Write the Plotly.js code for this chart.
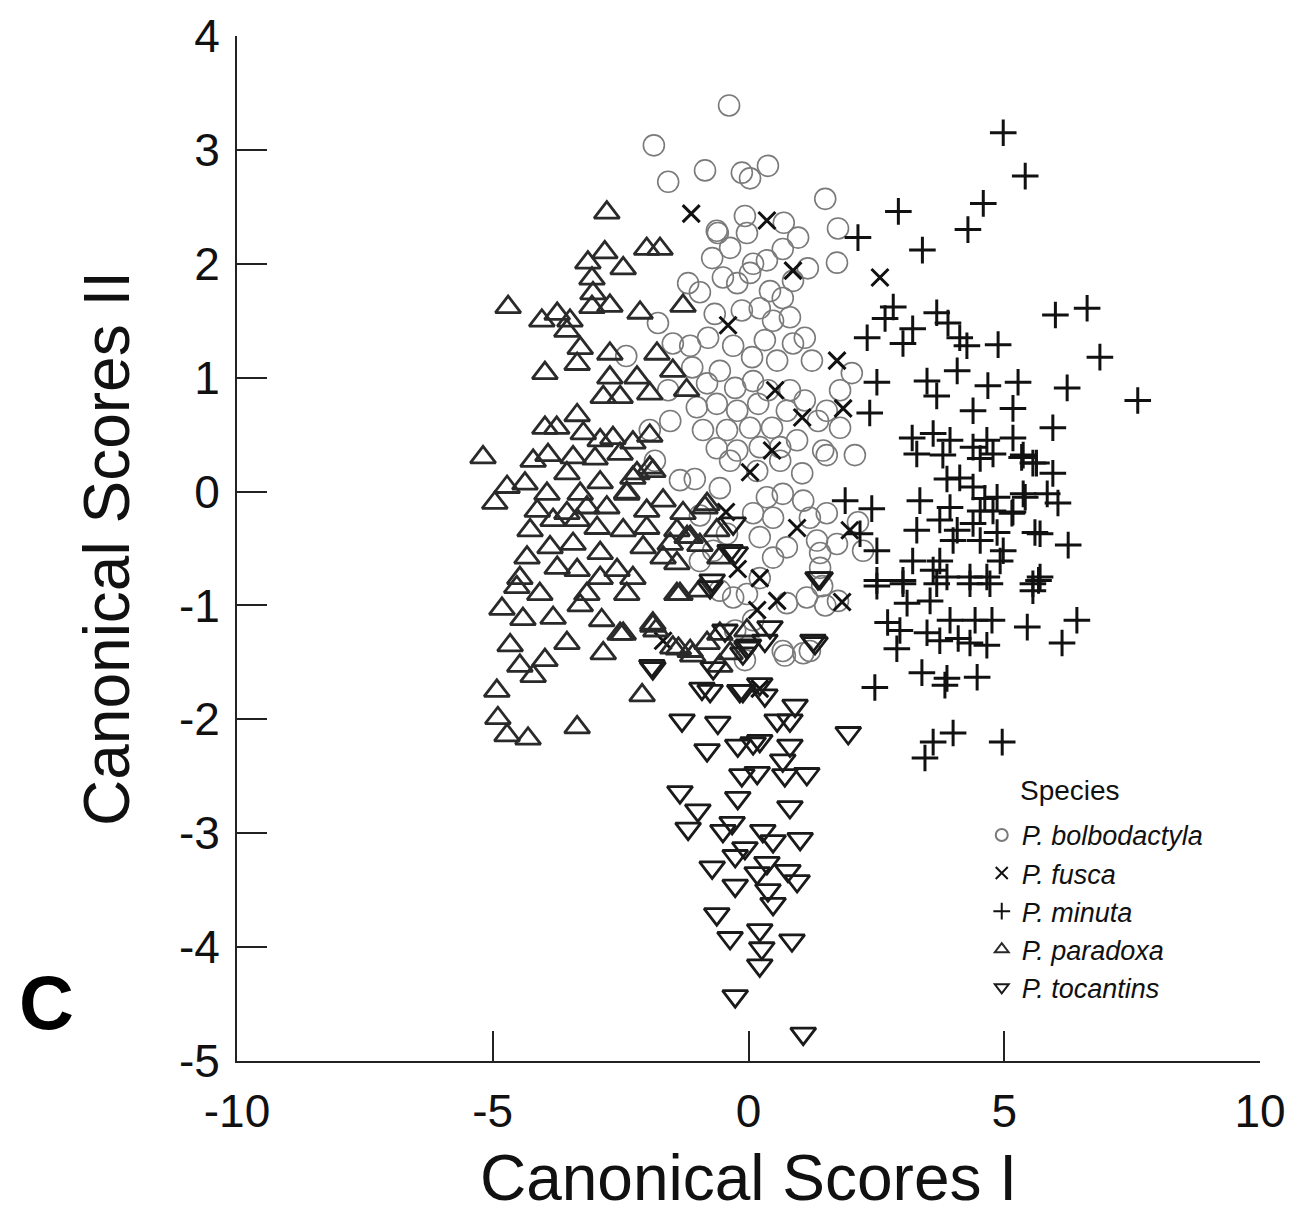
<!DOCTYPE html>
<html>
<head>
<meta charset="utf-8">
<script src="https://cdn.plot.ly/plotly-3.0.1.min.js"></script>
<style>html,body{margin:0;padding:0;background:#fff;}#chart{width:1305px;height:1214px;}</style>
</head>
<body>
<div id="chart"></div>
<script>
// P. bolbodactyla (circles)
const bolbX = [-0.38,-1.85,-1.57,-0.85,-0.13,0.03,0.38,1.50,1.75,-0.07,0.69,-0.62,1.73,-1.18,-1.77,-2.39,2.02,2.08,2.14,2.24,1.50,1.20,0.71,-0.07,-1.93,-1.83,-1.34,-1.53,-1.57,0.22,-0.26,-0.56,1.44,1.75,-0.95,-0.95,
  -0.71,-0.36,-0.60,-0.03,0.97,0.09,0.36,0.67,1.16,
  -0.95,-0.50,-0.22,0.03,0.42,0.87,0.67,-0.66,-0.13,0.22,0.48,0.81,1.10,-1.48,-1.14,-0.79,-0.30,0.07,0.32,0.56,0.87,1.24,1.79,-1.10,-0.81,-0.56,-0.26,0.09,0.38,0.81,1.10,-1.01,-0.62,-0.22,0.19,0.75,1.53,1.36,1.79,-0.89,-0.42,0.03,0.46,0.95,1.46,-0.62,-0.22,0.22,0.62,
  -1.05,-0.56,-0.36,0.17,0.62,1.05,1.53,0.36,0.67,1.07,0.09,0.48,1.20,1.53,0.22,0.75,1.34,1.73,1.40,0.48,-0.69,-0.42,1.40,1.14,0.75,-0.30,-0.03,0.09,0.67,1.07];
const bolbY = [3.39,3.04,2.72,2.82,2.80,2.75,2.86,2.57,2.31,2.42,2.36,2.29,2.01,1.83,1.48,1.19,1.04,0.32,-0.27,-0.52,-1.00,-1.40,-1.44,-1.48,0.54,0.27,0.10,0.62,0.89,-0.76,-1.22,-0.87,-0.83,-0.96,-0.61,-0.21,
  2.05,2.14,2.27,2.27,2.23,2.00,2.03,2.13,1.96,
  1.75,1.88,1.83,1.92,1.76,1.85,1.70,1.56,1.59,1.61,1.50,1.53,1.35,1.30,1.28,1.35,1.28,1.18,1.33,1.15,1.30,1.15,0.89,1.09,0.95,1.06,0.91,0.97,0.89,0.89,0.80,0.74,0.77,0.71,0.77,0.71,0.71,0.62,0.56,0.54,0.54,0.56,0.56,0.45,0.36,0.38,0.36,0.39,0.39,
  0.11,0.03,0.27,0.18,0.27,0.16,0.32,-0.05,-0.02,-0.08,-0.19,-0.23,-0.23,-0.19,-0.40,-0.49,-0.43,-0.46,-0.54,-0.58,-0.52,-0.37,-0.67,-0.93,-0.98,-0.93,-0.90,-1.13,-1.40,-1.42];

// P. fusca (x)
const fuscaX = [-1.12,0.36,2.57,0.87,-0.40,1.73,0.52,1.05,1.85,0.46,0.95,1.98,0.22,-0.44,1.83,-1.67,0.22,0.03,0.56,-0.21,0.17];
const fuscaY = [2.44,2.38,1.88,1.94,1.46,1.15,0.89,0.65,0.73,0.36,-0.32,-0.34,-0.76,-0.18,-0.97,-1.31,-1.73,0.17,-0.96,-0.68,-1.04];

// P. minuta (+)
const minutaX = [4.98,5.41,4.59,4.29,2.93,3.40,2.14,2.83,2.67,3.21,3.68,3.90,4.13,6.00,6.62,2.32,
  3.02,4.27,4.88,2.51,3.49,4.08,4.68,5.27,3.68,2.37,4.39,5.17,3.20,3.61,3.94,4.66,5.17,3.29,3.80,4.39,4.53,4.78,5.37,5.56,3.88,4.13,4.39,4.62,4.86,5.37,1.89,2.41,3.35,3.94,4.53,4.78,5.17,3.29,3.74,4.08,4.39,4.86,4.00,4.53,4.98,4.92,5.60,2.51,2.18,3.74,3.21,3.61,3.88,2.51,3.02,4.33,4.66,5.67,
  6.87,6.23,7.61,5.95,5.34,5.63,5.95,5.41,5.84,6.05,5.15,5.70,6.25,5.70,5.56,
  2.51,3.02,3.68,4.33,4.72,5.56,3.10,3.55,2.72,2.96,3.49,3.94,4.43,4.76,3.74,4.10,4.33,4.66,5.45,6.42,6.13,2.90,3.39,3.88,3.84,4.47,2.47,4.00,3.61,3.45,4.96];
const minutaY = [3.15,2.77,2.53,2.30,2.46,2.12,2.23,1.62,1.52,1.43,1.57,1.48,1.35,1.55,1.61,1.35,
  1.30,1.28,1.29,0.96,0.97,1.06,0.93,0.96,0.84,0.69,0.71,0.73,0.47,0.51,0.45,0.45,0.47,0.33,0.32,0.39,0.29,0.33,0.32,0.25,0.11,0.12,0.04,-0.06,-0.05,-0.02,-0.08,-0.15,-0.08,-0.14,-0.17,-0.17,-0.18,-0.34,-0.25,-0.34,-0.28,-0.36,-0.43,-0.43,-0.52,-0.61,-0.36,-0.52,-0.37,-0.61,-0.61,-0.69,-0.75,-0.78,-0.78,-0.75,-0.75,-0.78,
  1.18,0.91,0.80,0.56,0.30,0.25,0.16,-0.05,-0.02,-0.10,-0.19,-0.37,-0.47,-0.75,-0.81,
  -0.83,-0.81,-0.81,-0.81,-0.81,-0.87,-0.98,-0.96,-1.15,-1.22,-1.24,-1.13,-1.13,-1.13,-1.31,-1.29,-1.33,-1.35,-1.19,-1.13,-1.33,-1.38,-1.59,-1.64,-1.70,-1.63,-1.72,-2.12,-2.20,-2.34,-2.20];

// P. paradoxa (triangle up)
const paraX = [-2.77,-3.14,-2.81,-2.45,-1.99,-1.73,-3.06,-3.04,-3.06,-2.71,-4.70,-4.04,-3.74,-3.49,-3.55,-2.12,-1.28,
  -3.29,-3.35,-3.98,-2.71,-2.71,-2.18,-1.79,-1.48,-1.93,-2.51,-2.84,-1.21,-3.35,-3.98,-3.75,-2.65,-3.23,-2.90,-2.26,-1.93,-5.19,-4.21,-3.92,-3.43,-3.00,-2.51,-1.93,-2.18,-4.72,-4.96,-4.37,-3.94,-3.55,-3.29,-2.90,-2.38,-2.77,-1.67,-4.13,-3.55,-3.16,-4.27,-3.82,-3.35,-2.96,-2.45,-1.99,-1.40,-1.14,-0.81,-4.33,-3.88,-3.43,-2.90,-2.06,-1.67,-3.74,-3.35,-2.57,-2.26,-4.47,-2.90,
  -4.53,-4.08,-3.16,-2.38,-1.34,-4.82,-4.41,-3.82,-3.29,-2.87,-2.51,-1.87,-4.66,-3.55,-2.84,-4.47,-3.98,-4.21,-4.92,-2.08,-4.90,-4.72,-4.31,-3.35,-1.37,-1.81,-0.95,-1.09,-0.56,-0.95,
  -2.26,-1.87,-2.38,-1.99,-1.28,-0.85,-1.53,-1.20,-0.62,-1.40,-1.40,-2.45,-1.87,-1.48,-1.14,-0.81,-0.56,-0.03,-0.36,-0.56];
const paraY = [2.45,2.01,2.10,1.96,2.13,2.13,1.87,1.74,1.62,1.63,1.62,1.50,1.56,1.50,1.41,1.57,1.63,
  1.26,1.12,1.04,1.21,1.00,1.00,1.21,1.06,0.86,0.83,0.83,0.89,0.67,0.56,0.56,0.47,0.51,0.45,0.43,0.49,0.30,0.27,0.32,0.30,0.29,0.33,0.21,0.16,0.04,-0.10,0.07,-0.02,0.16,-0.02,0.08,-0.02,-0.14,-0.08,-0.17,-0.19,-0.14,-0.34,-0.25,-0.25,-0.32,-0.34,-0.32,-0.34,-0.40,-0.11,-0.58,-0.49,-0.46,-0.54,-0.49,-0.58,-0.67,-0.69,-0.69,-0.76,-0.76,-0.76,
  -0.84,-0.90,-0.90,-0.90,-0.90,-1.03,-1.12,-1.11,-1.00,-1.13,-1.25,-1.18,-1.35,-1.33,-1.42,-1.53,-1.48,-1.62,-1.75,-1.79,-1.99,-2.14,-2.17,-2.07,-1.38,-1.22,-0.87,-1.44,-1.53,-0.47,
  0.12,0.18,-0.01,-0.17,-0.19,-0.14,-0.46,-0.40,-0.34,-0.63,-0.90,-1.25,-1.16,-1.37,-1.40,-1.33,-1.25,-1.22,-1.42,-0.58];

// P. tocantins (triangle down)
const tocX = [-1.34,-0.99,-1.18,-0.21,0.17,-0.13,0.71,1.14,0.81,-0.32,-0.50,-0.07,0.28,0.48,1.01,-0.26,-0.71,0.17,0.36,0.77,0.95,-0.26,0.38,0.48,-0.62,-0.36,0.22,0.26,0.22,0.85,-0.26,1.07,
  -0.71,-0.26,1.36,1.30,1.95,-0.75,-0.17,0.32,0.91,0.81,-0.60,-1.30,-0.81,-0.21,0.22,0.81,-1.89,-0.46,0.00,0.32,
  0.56,0.09,0.67,-0.11,0.22,-0.11,-0.75,1.40,-0.30,0.42,-0.03,1.26,-1.87,-0.69,-0.36,-0.91];
const tocY = [-2.64,-2.80,-2.96,-2.69,-2.47,-2.49,-2.49,-2.48,-2.77,-2.91,-2.98,-3.13,-2.98,-3.07,-3.05,-3.20,-3.30,-3.35,-3.26,-3.33,-3.42,-3.46,-3.50,-3.62,-3.71,-3.92,-3.85,-4.01,-4.16,-3.94,-4.43,-4.76,
  -0.78,-0.54,-0.76,-1.33,-2.12,-1.75,-1.75,-1.79,-1.88,-2.01,-2.03,-2.01,-2.27,-2.23,-2.19,-2.23,-1.53,-1.22,-1.35,-1.31,
  -2.01,-2.21,-2.36,-1.42,-1.69,-1.75,-0.84,-0.76,-0.28,-1.19,-1.37,-1.31,-1.55,-1.55,-0.52,-1.73];

const speciesNames = ['P. bolbodactyla','P. fusca','P. minuta','P. paradoxa','P. tocantins'];
const legendTitle = 'Species';
const xTicks = [-10,-5,0,5,10];
const yTicks = [4,3,2,1,0,-1,-2,-3,-4,-5];

const FONT = 'Liberation Sans, Arial, sans-serif';
function tr(x, y, name, symbol, color, size, lw) {
  return {
    type: 'scatter', mode: 'markers', x: x, y: y, name: '<i>' + name + '</i>',
    marker: {symbol: symbol, color: color, size: size, line: {color: color, width: lw}},
    hoverinfo: 'skip'
  };
}
const data = [
  tr(bolbX, bolbY, speciesNames[0], 'circle-open', '#7a7a7a', 21, 1.6),
  tr(fuscaX, fuscaY, speciesNames[1], 'x-thin-open', '#111', 17, 3),
  tr(minutaX, minutaY, speciesNames[2], 'cross-thin-open', '#111', 19, 3),
  tr(paraX, paraY, speciesNames[3], 'triangle-up-open', '#2a2a2a', 22, 2.8),
  tr(tocX, tocY, speciesNames[4], 'triangle-down-open', '#1a1a1a', 22, 2.8)
];

const axisCommon = {
  showgrid: false, zeroline: false, showline: true, linecolor: '#222', linewidth: 2,
  ticks: 'inside', ticklen: 30, tickwidth: 2, tickcolor: '#222',
  tickfont: {family: FONT, size: 46, color: '#111'}, mirror: false, fixedrange: true
};
const layout = {
  width: 1305, height: 1214, autosize: false,
  paper_bgcolor: '#fff', plot_bgcolor: '#fff',
  margin: {l: 237, r: 45, t: 36, b: 153, pad: 0},
  font: {family: FONT, color: '#111'},
  xaxis: Object.assign({}, axisCommon, {
    range: [-10, 10], tickmode: 'array', tickvals: xTicks, ticktext: xTicks.map(String),
    ticklabelstandoff: 9,
    title: {text: 'Canonical Scores I', font: {family: FONT, size: 64, color: '#111'}, standoff: 30}
  }),
  yaxis: Object.assign({}, axisCommon, {
    range: [-5, 4], tickmode: 'array', tickvals: yTicks, ticktext: yTicks.map(String),
    ticklabelstandoff: 6,
    title: {text: 'Canonical Scores II', font: {family: FONT, size: 64, color: '#111'}, standoff: 28}
  }),
  showlegend: true,
  legend: {
    x: 0.728, y: 0.244, xanchor: 'left', yanchor: 'top',
    bgcolor: 'rgba(0,0,0,0)', borderwidth: 0,
    font: {family: FONT, size: 27, color: '#111'},
    itemsizing: 'constant'
  },
  annotations: [{
    text: '<b>C</b>', xref: 'paper', yref: 'paper', x: -0.186, y: 0.057,
    xanchor: 'center', yanchor: 'middle', showarrow: false,
    font: {family: FONT, size: 76, color: '#000'}
  }, {
    text: legendTitle, xref: 'paper', yref: 'paper', x: 0.763, y: 0.264,
    xanchor: 'left', yanchor: 'middle', showarrow: false,
    font: {family: FONT, size: 28, color: '#111'}
  }]
};
Plotly.newPlot('chart', data, layout, {staticPlot: true, displayModeBar: false});
</script>
</body>
</html>
